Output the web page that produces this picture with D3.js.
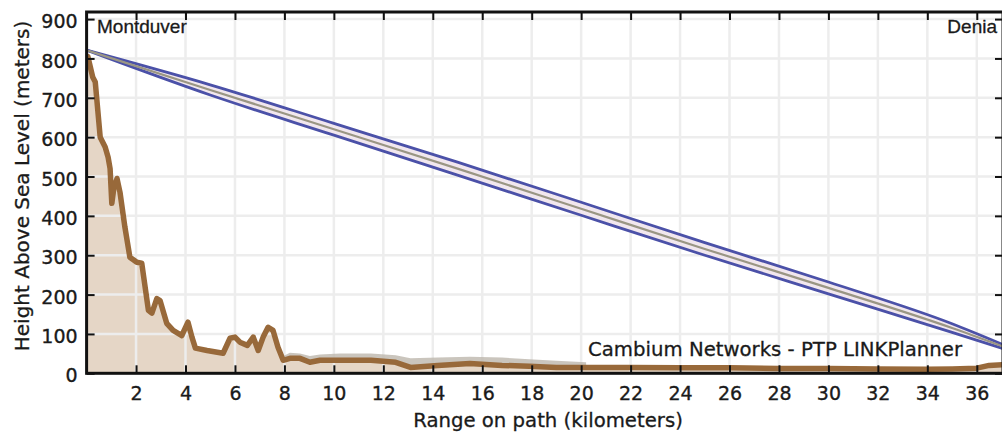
<!DOCTYPE html>
<html>
<head>
<meta charset="utf-8">
<script src="https://cdn.jsdelivr.net/npm/d3@7"></script>
<style>
  html, body { margin: 0; padding: 0; background: #fff; }
  svg { display: block; }
</style>
</head>
<body>
<svg id="chart" width="1002" height="435"></svg>
<script>
// Path profile: Montduver -> Denia
const siteA = "Montduver";
const siteB = "Denia";
const xLabel = "Range on path (kilometers)";
const yLabel = "Height Above Sea Level (meters)";
const credit = "Cambium Networks - PTP LINKPlanner";

const xTicks = [2, 4, 6, 8, 10, 12, 14, 16, 18, 20, 22, 24, 26, 28, 30, 32, 34, 36];
const yTicks = [0, 100, 200, 300, 400, 500, 600, 700, 800, 900];

// Terrain height along the path (km, m)
const terrainKm = [0.00, 0.05, 0.25, 0.35, 0.55, 0.75, 0.87, 0.95, 1.02, 1.10, 1.23, 1.35, 1.55, 1.75, 2.03, 2.23, 2.50, 2.64, 2.84, 2.97, 3.24, 3.50, 3.85, 4.10, 4.26, 4.40, 4.87, 5.52, 5.80, 6.00, 6.20, 6.50, 6.74, 6.94, 7.14, 7.34, 7.54, 7.74, 7.95, 8.22, 8.63, 9.03, 9.44, 10.25, 11.50, 12.50, 13.10, 14.20, 15.50, 16.80, 17.90, 19.00, 20.00, 22.00, 24.00, 26.00, 28.00, 30.00, 32.00, 34.00, 35.00, 36.00, 36.50, 37.06];
const terrainM  = [800, 805, 752, 740, 600, 575, 549, 520, 432, 470, 495, 460, 371, 295, 282, 280, 160, 153, 190, 185, 127, 109, 96, 130, 92, 64, 58, 51, 89, 92, 79, 71, 92, 58, 92, 117, 109, 66, 33, 38, 38, 28, 33, 33, 33, 28, 15, 20, 25, 20, 18, 15, 15, 15, 14, 14, 12, 12, 11, 10, 11, 13, 20, 22];

// Clutter top (km, m)
const clutterKm  = [8.00, 8.22, 8.63, 9.03, 9.44, 10.25, 11.50, 12.50, 13.10, 14.20, 15.50, 16.80, 17.90, 19.00, 20.20];
const clutterTop = [45, 52, 50, 44, 48, 50, 50, 46, 38, 40, 42, 40, 36, 32, 28];

// Line of sight and first Fresnel zone radius (km, m)
const losKm    = [0, 5, 10, 15, 20, 25, 30, 35, 37.06];
const losM     = [821, 720, 620, 520, 418, 316, 217, 115, 68];
const fresnelR = [0, 13, 15, 16.5, 16.5, 16, 15, 11, 5];

const W = 1002, H = 435;
const L = 86.6, R = 1003, T = 12, B = 373.3;

const x = d3.scaleLinear().domain([0, 37.06]).range([L, R]);
const y = d3.scaleLinear().domain([0, 918]).range([B, T]);

const svg = d3.select("#chart");
svg.append("rect").attr("width", W).attr("height", H).attr("fill", "#fff");

svg.append("defs").append("clipPath").attr("id", "plot")
  .append("rect").attr("x", L).attr("y", T).attr("width", R - L).attr("height", B - T);

const plot = svg.append("g").attr("clip-path", "url(#plot)");

const terrain = terrainKm.map((k, i) => ({ k, m: terrainM[i] }));

// terrain fill
plot.append("path")
  .datum(terrain)
  .attr("fill", "#e5d6c6")
  .attr("d", d3.area().x(d => x(d.k)).y0(B).y1(d => y(d.m)));

// grid
const grid = plot.append("g").attr("stroke", "#ededed").attr("stroke-width", 2.5);
grid.selectAll("line.v").data(xTicks).join("line")
  .attr("x1", d => x(d)).attr("x2", d => x(d)).attr("y1", T).attr("y2", B);
grid.selectAll("line.h").data(yTicks.filter(v => v > 0)).join("line")
  .attr("x1", L).attr("x2", R).attr("y1", d => y(d)).attr("y2", d => y(d));

// clutter band
const clutter = clutterKm.map((k, i) => {
  // terrain under this clutter sample
  const j = terrainKm.findIndex(t => t >= k);
  const t = j <= 0 ? terrainM[0] : terrainM[j - 1] + (terrainM[j] - terrainM[j - 1]) * (k - terrainKm[j - 1]) / (terrainKm[j] - terrainKm[j - 1]);
  return { k, top: clutterTop[i], base: t };
});
plot.append("path")
  .datum(clutter)
  .attr("fill", "#bdb7ad")
  .attr("opacity", 0.8)
  .attr("d", d3.area().x(d => x(d.k)).y0(d => y(d.base)).y1(d => y(d.top)));

// terrain line
plot.append("path")
  .datum(terrain)
  .attr("fill", "none")
  .attr("stroke", "#98693a")
  .attr("stroke-width", 5.5)
  .attr("stroke-linejoin", "round")
  .attr("d", d3.line().x(d => x(d.k)).y(d => y(d.m)));

// Fresnel zone
const los = losKm.map((k, i) => ({ k, m: losM[i], r: fresnelR[i] }));
const curve = d3.curveMonotoneX;
plot.append("path")
  .datum(los)
  .attr("fill", "#f1e7ee")
  .attr("d", d3.area().curve(curve).x(d => x(d.k)).y0(d => y(d.m - d.r)).y1(d => y(d.m + d.r)));
["m+", "m-"].forEach(side => {
  plot.append("path")
    .datum(los)
    .attr("fill", "none").attr("stroke", "#4b51a8").attr("stroke-width", 2.8)
    .attr("d", d3.line().curve(curve).x(d => x(d.k)).y(d => y(side === "m+" ? d.m + d.r : d.m - d.r)));
});
plot.append("path")
  .datum(los)
  .attr("fill", "none").attr("stroke", "#9a9684").attr("stroke-width", 2.2)
  .attr("d", d3.line().curve(curve).x(d => x(d.k)).y(d => y(d.m)));

// axes (inward ticks)
const tickFont = g => g.selectAll("text")
  .attr("font-family", "DejaVu Sans").attr("font-size", 19).attr("fill", "#1a1a1a")
  .attr("stroke", "#1a1a1a").attr("stroke-width", 0.35);

const axB = svg.append("g").attr("transform", `translate(0,${B})`)
  .call(d3.axisBottom(x).tickValues(xTicks).tickSize(-8).tickPadding(13).tickFormat(d3.format("d")));
axB.call(tickFont);
const axT = svg.append("g").attr("transform", `translate(0,${T})`)
  .call(d3.axisTop(x).tickValues(xTicks).tickSize(-8).tickFormat(""));
const axL = svg.append("g").attr("transform", `translate(${L},0)`)
  .call(d3.axisLeft(y).tickValues(yTicks).tickSize(-8).tickPadding(9).tickFormat(d3.format("d")));
axL.call(tickFont);
axL.selectAll("text").attr("dy", "0.45em");
const axR = svg.append("g").attr("transform", `translate(${R},0)`)
  .call(d3.axisRight(y).tickValues(yTicks).tickSize(-8).tickFormat(""));

[axB, axT, axL, axR].forEach(a => {
  a.select(".domain").remove();
  a.selectAll(".tick line").attr("stroke", "#111").attr("stroke-width", 2);
});

// frame
svg.append("rect")
  .attr("x", L).attr("y", T).attr("width", R - L).attr("height", B - T)
  .attr("fill", "none").attr("stroke", "#111").attr("stroke-width", 3);

// site names
const label = (sel, size) => sel
  .attr("font-size", size).attr("fill", "#1a1a1a")
  .attr("stroke", "#1a1a1a").attr("stroke-width", 0.3);

label(svg.append("text").attr("x", 97).attr("y", 33)
  .attr("font-family", "Liberation Sans"), 19)
  .text(siteA);
label(svg.append("text").attr("x", 997).attr("y", 33).attr("text-anchor", "end")
  .attr("font-family", "Liberation Sans"), 19)
  .text(siteB);

// credit
label(svg.append("text").attr("x", 962).attr("y", 356).attr("text-anchor", "end")
  .attr("font-family", "DejaVu Sans"), 19.7)
  .text(credit);

// axis titles
label(svg.append("text").attr("x", 548).attr("y", 426.5).attr("text-anchor", "middle")
  .attr("font-family", "DejaVu Sans"), 19.7)
  .text(xLabel);
label(svg.append("text")
  .attr("transform", `translate(29,186) rotate(-90)`)
  .attr("text-anchor", "middle")
  .attr("font-family", "DejaVu Sans"), 20)
  .text(yLabel);
</script>
</body>
</html>
